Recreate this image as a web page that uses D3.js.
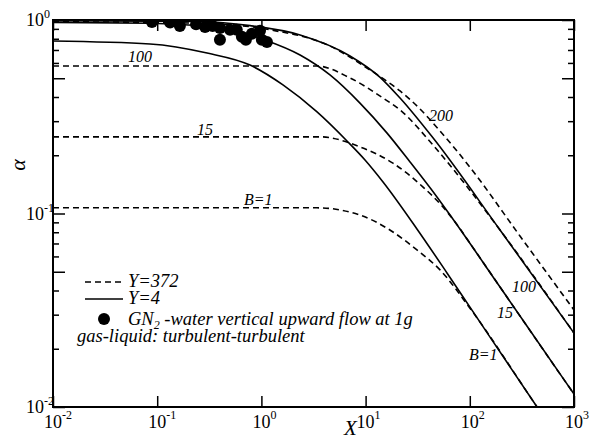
<!DOCTYPE html>
<html>
<head>
<meta charset="utf-8">
<script src="https://cdn.jsdelivr.net/npm/d3@7"></script>
<style>
  body { margin: 0; background: #fff; }
</style>
</head>
<body>
<svg width="597" height="441"></svg>
<script>
// ---- data: [X, alpha] ----
// Y=4 (solid)
var solidB1 = [[0.01,0.779],[0.0853,0.752],[0.301,0.675],[0.778,0.585],[1.61,0.462],[3.42,0.335],[6.63,0.237],[9.87,0.189],[14.7,0.1455],[31.1,0.0832],[60.4,0.0493],[100,0.0329],[442,0.01],[527,0.0087]];
var solidB15 = [[0.01,0.972],[0.0853,0.962],[0.5,0.89],[1.08,0.788],[2.35,0.659],[4.55,0.52],[8.83,0.372],[16,0.261],[26.7,0.1846],[48.4,0.1217],[64.6,0.0982],[195,0.0417],[820,0.0136],[1000,0.01167]];
var solidB100 = [[0.01,0.992],[0.258,0.982],[0.778,0.935],[2.35,0.837],[7.08,0.652],[13.7,0.507],[21.4,0.395],[44.3,0.246],[195,0.0822],[1000,0.0241]];
// Y=372 (dashed)
var dashB200 = [[0.01,0.98],[0.258,0.962],[1.21,0.89],[4.55,0.734],[10.3,0.565],[15.35,0.49],[21.4,0.43],[33.3,0.3467],[51.8,0.267],[100,0.1738],[303,0.0765],[1000,0.0317]];
var dashB100 = [[0.01,0.578],[3.42,0.578],[7.08,0.502],[14.7,0.395],[21.4,0.343],[44.3,0.226],[100,0.132],[195,0.0822],[1000,0.0241]];
var dashB15 = [[0.01,0.249],[3.65,0.249],[8.83,0.221],[18.3,0.182],[35.6,0.137],[55.3,0.108],[77.1,0.0862],[100,0.0704],[195,0.0417],[820,0.0136],[1000,0.01167]];
var dashB1 = [[0.01,0.107],[3.42,0.107],[8.83,0.0982],[17.1,0.0822],[31.1,0.0648],[51.8,0.0511],[100,0.0325],[442,0.01],[527,0.0087]];

// GN2-water measurements
var points = [[0.089,0.976],[0.133,0.97],[0.165,0.93],[0.236,0.95],[0.288,0.92],[0.34,0.93],[0.4,0.91],[0.4,0.79],[0.5,0.89],[0.58,0.89],[0.65,0.82],[0.71,0.79],[0.81,0.85],[0.97,0.88],[1.01,0.79],[1.13,0.77]];

var xMajor = [1e-2, 1e-1, 1e0, 1e1, 1e2, 1e3];
var xExp = ["-2", "-1", "0", "1", "2", "3"];
var yMajor = [1e-2, 1e-1, 1e0];
var yExp = ["-2", "-1", "0"];
var yMid = [0.05, 0.5];
var yMinor = [0.02,0.03,0.04,0.06,0.07,0.08,0.09,0.2,0.3,0.4,0.6,0.7,0.8,0.9];

var svg = d3.select("svg")
  .attr("font-family", "'Liberation Serif', 'Times New Roman', Times, serif");
var pL = 53, pR = 574, pT = 20, pB = 407;

var x = d3.scaleLog().domain([0.01, 1000]).range([pL, pR]);
var y = d3.scaleLog().domain([0.01, 1]).range([pB, pT]);

var line = d3.line()
  .x(function (d) { return x(d[0]); })
  .y(function (d) { return y(d[1]); })
  .curve(d3.curveMonotoneX);

svg.append("clipPath").attr("id", "plot")
  .append("rect").attr("x", pL).attr("y", pT).attr("width", pR - pL).attr("height", pB - pT);

var g = svg.append("g").attr("clip-path", "url(#plot)");

[solidB1, solidB15, solidB100].forEach(function (s) {
  g.append("path").datum(s).attr("d", line)
    .attr("fill", "none").attr("stroke", "#000").attr("stroke-width", 1.6);
});
[dashB200, dashB100, dashB15, dashB1].forEach(function (s) {
  g.append("path").datum(s).attr("d", line)
    .attr("fill", "none").attr("stroke", "#000").attr("stroke-width", 1.6)
    .attr("stroke-dasharray", "6,4");
});

g.selectAll(".pt").data(points).enter().append("circle")
  .attr("class", "pt")
  .attr("cx", function (d) { return x(d[0]); })
  .attr("cy", function (d) { return y(d[1]); })
  .attr("r", 6).attr("fill", "#000");

// ---- axes ----
function styleAxis(sel) {
  sel.select(".domain").remove();
  sel.selectAll("line").attr("stroke", "#000").attr("stroke-width", 1.5);
  sel.selectAll("text").remove();
}
svg.append("g").attr("transform", "translate(" + pL + ",0)")
  .call(d3.axisRight(y).tickValues(yMajor.concat(yMid)).tickSize(12)).call(styleAxis);
svg.append("g").attr("transform", "translate(" + pL + ",0)")
  .call(d3.axisRight(y).tickValues(yMinor).tickSize(6)).call(styleAxis);
svg.append("g").attr("transform", "translate(" + pR + ",0)")
  .call(d3.axisLeft(y).tickValues(yMajor.concat(yMid)).tickSize(12)).call(styleAxis);
svg.append("g").attr("transform", "translate(" + pR + ",0)")
  .call(d3.axisLeft(y).tickValues(yMinor).tickSize(6)).call(styleAxis);
svg.append("g").attr("transform", "translate(0," + pB + ")")
  .call(d3.axisTop(x).tickValues(xMajor).tickSize(11)).call(styleAxis);
svg.append("g").attr("transform", "translate(0," + pT + ")")
  .call(d3.axisBottom(x).tickValues(xMajor).tickSize(11)).call(styleAxis);

svg.append("rect").attr("x", pL).attr("y", pT)
  .attr("width", pR - pL).attr("height", pB - pT)
  .attr("fill", "none").attr("stroke", "#000").attr("stroke-width", 2);

// tick labels
xMajor.forEach(function (v, i) {
  svg.append("text").attr("x", x(v)).attr("y", 428).attr("text-anchor", "middle")
    .attr("font-size", 18).text("10");
  svg.append("text").attr("x", x(v) + 9).attr("y", 419)
    .attr("font-size", 12).text(xExp[i]);
});
yMajor.forEach(function (v, i) {
  svg.append("text").attr("x", 44).attr("y", y(v) + 6).attr("text-anchor", "end")
    .attr("font-size", 18).text("10");
  svg.append("text").attr("x", 44).attr("y", y(v) - 2)
    .attr("font-size", 12).text(yExp[i]);
});

// axis titles
svg.append("text").attr("x", 344).attr("y", 435).attr("font-size", 21)
  .attr("font-style", "italic").text("X");
svg.append("text").attr("transform", "translate(25,165) rotate(-90)")
  .attr("text-anchor", "middle").attr("font-size", 22).attr("font-style", "italic").text("α");

// curve labels
var labels = [
  ["100", 128, 62], ["15", 197, 135], ["B=1", 244, 205], ["200", 429, 121],
  ["100", 512, 292], ["15", 497, 318], ["B=1", 469, 360]
];
labels.forEach(function (l) {
  svg.append("text").attr("x", l[1]).attr("y", l[2]).attr("font-size", 16)
    .attr("font-style", "italic").text(l[0]);
});

// legend
var lg = svg.append("g").attr("font-style", "italic").attr("font-size", 18.5);
lg.append("line").attr("x1", 85).attr("x2", 123).attr("y1", 282).attr("y2", 282)
  .attr("stroke", "#000").attr("stroke-width", 1.6).attr("stroke-dasharray", "6,4");
lg.append("text").attr("x", 128).attr("y", 287).text("Y=372");
lg.append("line").attr("x1", 85).attr("x2", 123).attr("y1", 299).attr("y2", 299)
  .attr("stroke", "#000").attr("stroke-width", 1.6);
lg.append("text").attr("x", 128).attr("y", 304).text("Y=4");
lg.append("circle").attr("cx", 104).attr("cy", 319).attr("r", 6).attr("fill", "#000");
var t3 = lg.append("text").attr("x", 128).attr("y", 325);
t3.append("tspan").text("GN");
t3.append("tspan").attr("font-size", 12).attr("dy", 4).text("2");
t3.append("tspan").attr("dy", -4).text(" -water vertical upward flow at 1g");
lg.append("text").attr("x", 77).attr("y", 342).text("gas-liquid: turbulent-turbulent");
</script>
</body>
</html>
